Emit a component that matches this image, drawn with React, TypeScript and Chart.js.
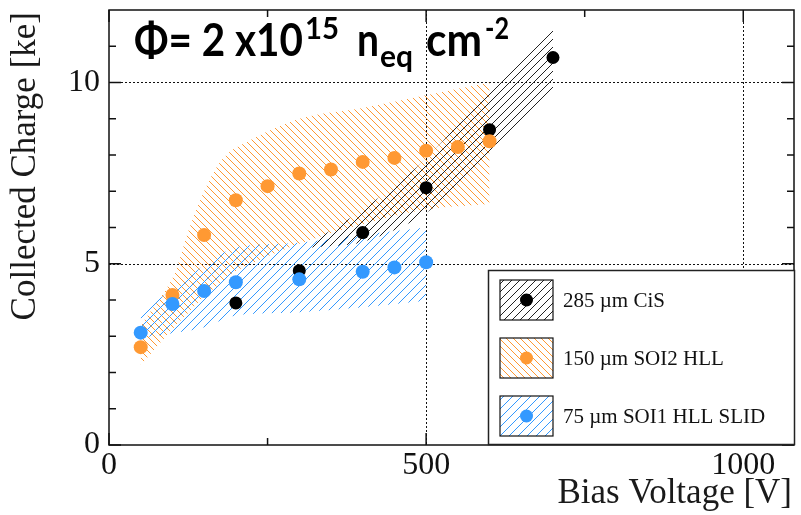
import React, { useEffect, useRef } from 'react';
import { Chart, registerables } from 'chart.js';
Chart.register(...registerables);

// ---- data ----
const cisVoltage = [200, 300, 400, 500, 600, 700];
const cisCharge = [3.92, 4.81, 5.86, 7.10, 8.70, 10.69];
const soi2Voltage = [50, 100, 150, 200, 250, 300, 350, 400, 450, 500, 550, 600];
const soi2Charge = [2.70, 4.14, 5.79, 6.75, 7.14, 7.49, 7.60, 7.81, 7.92, 8.12, 8.22, 8.38];
const soi1Voltage = [50, 100, 150, 200, 300, 400, 450, 500];
const soi1Charge = [3.10, 3.89, 4.25, 4.49, 4.57, 4.78, 4.90, 5.04];

const cisBandVoltage = [320, 400, 500, 600, 700];
const cisBandHigh = [5.6, 6.5, 7.9, 9.85, 11.6];
const cisBandLow = [5.45, 5.6, 6.4, 8.1, 9.7];
const soi2BandVoltage = [50, 100, 125, 150, 175, 200, 300, 400, 500, 600];
const soi2BandHigh = [3.3, 4.6, 5.9, 7.0, 7.8, 8.2, 9.0, 9.3, 9.65, 10.0];
const soi2BandLow = [2.2, 3.2, 3.65, 4.1, 4.45, 4.8, 5.55, 6.1, 6.5, 6.65];
const soi1BandVoltage = [50, 100, 150, 200, 300, 400, 500];
const soi1BandHigh = [3.66, 4.3, 4.95, 5.45, 5.58, 5.8, 6.0];
const soi1BandLow = [2.95, 3.08, 3.25, 3.57, 3.66, 3.8, 3.98];

const xTickLabels = [0, 500, 1000];
const xMinorTicks = [250, 750];
const yTickLabels = [0, 5, 10];
const yMinorTicks = [1, 2, 3, 4, 6, 7, 8, 9, 11];
const legendLabels = ['285 \u00b5m CiS', '150 \u00b5m SOI2 HLL', '75 \u00b5m SOI1 HLL SLID'];

const BLACK = '#000000';
const ORANGE = '#ff9933';
const BLUE = '#3399ff';
const SERIF = "'Liberation Serif', 'DejaVu Serif', serif";

function pts(xs: number[], ys: number[]) {
  return xs.map((x, i) => ({ x, y: ys[i] }));
}

function hatch(ctx: CanvasRenderingContext2D, color: string, size: number, dir: number, lw = 1) {
  const c = document.createElement('canvas');
  c.width = size; c.height = size;
  const g = c.getContext('2d')!;
  g.strokeStyle = color; g.lineWidth = lw;
  g.beginPath();
  if (dir > 0) {
    g.moveTo(0, size); g.lineTo(size, 0);
    g.moveTo(-2, 2); g.lineTo(2, -2);
    g.moveTo(size - 2, size + 2); g.lineTo(size + 2, size - 2);
  } else {
    g.moveTo(0, 0); g.lineTo(size, size);
    g.moveTo(size - 2, -2); g.lineTo(size + 2, 2);
    g.moveTo(-2, size - 2); g.lineTo(2, size + 2);
  }
  g.stroke();
  return ctx.createPattern(c, 'repeat')!;
}

export default function App() {
  const ref = useRef<HTMLCanvasElement>(null);
  useEffect(() => {
    const canvas = ref.current!;
    const ctx = canvas.getContext('2d')!;
    const blackHatch = hatch(ctx, '#222222', 8, 1);
    const orangeHatch = hatch(ctx, ORANGE, 7, -1);
    const blueHatch = hatch(ctx, BLUE, 9, 1);

    const decor = {
      id: 'decor',
      beforeDatasetsDraw(chart: any) {
        const { ctx: c, chartArea: a, scales } = chart;
        const xs = scales.x, ys = scales.y;
        c.save();
        c.strokeStyle = '#111';
        c.lineWidth = 1;
        c.setLineDash([2, 2]);
        xTickLabels.filter(v => v > 0).forEach(v => {
          const px = Math.round(xs.getPixelForValue(v)) + 0.5;
          c.beginPath(); c.moveTo(px, a.top); c.lineTo(px, a.bottom); c.stroke();
        });
        yTickLabels.filter(v => v > 0).forEach(v => {
          const py = Math.round(ys.getPixelForValue(v)) + 0.5;
          c.beginPath(); c.moveTo(a.left, py); c.lineTo(a.right, py); c.stroke();
        });
        c.restore();
      },
      afterDatasetsDraw(chart: any) {
        const { ctx: c, chartArea: a, scales } = chart;
        const xs = scales.x, ys = scales.y;
        c.save();
        // ticks
        c.strokeStyle = '#111';
        c.lineWidth = 1.5;
        const xt = (v: number, len: number) => {
          const px = xs.getPixelForValue(v);
          c.beginPath(); c.moveTo(px, a.bottom); c.lineTo(px, a.bottom - len); c.stroke();
          c.beginPath(); c.moveTo(px, a.top); c.lineTo(px, a.top + len); c.stroke();
        };
        const yt = (v: number, len: number) => {
          const py = ys.getPixelForValue(v);
          c.beginPath(); c.moveTo(a.left, py); c.lineTo(a.left + len, py); c.stroke();
          c.beginPath(); c.moveTo(a.right, py); c.lineTo(a.right - len, py); c.stroke();
        };
        xTickLabels.forEach(v => xt(v, 12));
        xMinorTicks.forEach(v => xt(v, 7));
        yTickLabels.forEach(v => yt(v, 12));
        yMinorTicks.forEach(v => yt(v, 7));
        // frame
        c.lineWidth = 1.5;
        c.strokeRect(a.left, a.top, a.right - a.left, a.bottom - a.top);

        // axis titles
        c.fillStyle = '#1a1a1a';
        c.font = `35px ${SERIF}`;
        c.textAlign = 'right';
        c.textBaseline = 'alphabetic';
        c.fillText('Bias Voltage [V]', a.right - 2, 503);
        c.save();
        c.translate(35, a.top + 2);
        c.rotate(-Math.PI / 2);
        c.fillText('Collected Charge [ke]', 0, 0);
        c.restore();

        // fluence title
        c.fillStyle = '#000';
        c.textAlign = 'left';
        const big = "bold 45px Lato, 'Open Sans', sans-serif";
        const small = "bold 31px Lato, 'Open Sans', sans-serif";
        const put = (t: string, f: string, x: number, y: number, w: number) => {
          c.font = f;
          const m = c.measureText(t).width;
          c.save();
          c.translate(x, y);
          c.scale(w / m, 1);
          c.fillText(t, 0, 0);
          c.restore();
        };
        put('\u03a6= 2 x10', big, 134, 56, 169);
        put('15', small, 305, 39, 34);
        put('n', big, 357, 56, 22);
        put('eq', small, 380, 67, 33);
        put('cm', big, 426, 56, 56);
        put('-2', small, 485, 39, 24);

        // legend
        const lx = 488, ly = 270, lw = 307, lh = 175;
        c.fillStyle = '#fff';
        c.fillRect(lx, ly, lw, lh);
        c.strokeStyle = '#222';
        c.lineWidth = 1.5;
        c.strokeRect(lx + 0.5, ly + 0.5, lw - 1, lh - 1);
        const fills = [blackHatch, orangeHatch, blueHatch];
        const cols = [BLACK, ORANGE, BLUE];
        legendLabels.forEach((lab, i) => {
          const cy = 300 + i * 58;
          const bx = 500, bw = 53, bh = 40;
          c.fillStyle = fills[i];
          c.fillRect(bx, cy - bh / 2, bw, bh);
          c.strokeStyle = '#111';
          c.lineWidth = 1.2;
          c.strokeRect(bx, cy - bh / 2, bw, bh);
          c.fillStyle = cols[i];
          c.beginPath(); c.arc(bx + bw / 2, cy, 6.5, 0, Math.PI * 2); c.fill();
          c.fillStyle = '#111';
          c.font = `21px ${SERIF}`;
          c.textAlign = 'left';
          c.textBaseline = 'middle';
          c.fillText(lab, 563, cy + 1);
        });
        c.restore();
      },
    };

    const band = (xsv: number[], hi: number[], lo: number[], pat: CanvasPattern, order: number) => [
      {
        type: 'line', data: pts(xsv, hi), borderWidth: 0, borderColor: 'rgba(0,0,0,0)',
        pointRadius: 0, fill: '+1', backgroundColor: pat, order, tension: 0.3,
      },
      {
        type: 'line', data: pts(xsv, lo), borderWidth: 0, borderColor: 'rgba(0,0,0,0)',
        pointRadius: 0, fill: false, backgroundColor: 'rgba(0,0,0,0)', order, tension: 0.3,
      },
    ];

    const chart = new Chart(canvas, {
      type: 'scatter',
      data: {
        datasets: [
          { type: 'scatter', label: legendLabels[2], data: pts(soi1Voltage, soi1Charge), backgroundColor: BLUE, borderWidth: 0, pointRadius: 7, order: 0 },
          { type: 'scatter', label: legendLabels[1], data: pts(soi2Voltage, soi2Charge), backgroundColor: ORANGE, borderWidth: 0, pointRadius: 7, order: 1 },
          { type: 'scatter', label: legendLabels[0], data: pts(cisVoltage, cisCharge), backgroundColor: BLACK, borderWidth: 0, pointRadius: 6.5, order: 2 },
          ...band(cisBandVoltage, cisBandHigh, cisBandLow, blackHatch, 10),
          ...band(soi2BandVoltage, soi2BandHigh, soi2BandLow, orangeHatch, 12),
          ...band(soi1BandVoltage, soi1BandHigh, soi1BandLow, blueHatch, 11),
        ] as any,
      },
      options: {
        animation: false,
        responsive: false,
        layout: { padding: { top: 10, right: 7, left: 0, bottom: 0 } },
        plugins: { legend: { display: false }, tooltip: { enabled: false } },
        scales: {
          x: {
            type: 'linear', min: 0, max: 1080,
            grid: { display: false, drawTicks: false },
            border: { display: false },
            afterBuildTicks: (s: any) => { s.ticks = xTickLabels.map(v => ({ value: v })); },
            afterFit: (s: any) => { s.height = 70; s.paddingLeft = 0; s.paddingRight = 0; },
            ticks: { font: { family: SERIF, size: 32 }, color: '#111', padding: 1, maxRotation: 0, callback: (v: any) => String(v) },
          },
          y: {
            type: 'linear', min: 0, max: 12,
            grid: { display: false, drawTicks: false },
            border: { display: false },
            afterBuildTicks: (s: any) => { s.ticks = yTickLabels.map(v => ({ value: v })); },
            afterFit: (s: any) => { s.width = 109; s.paddingTop = 0; s.paddingBottom = 0; },
            ticks: { font: { family: SERIF, size: 32 }, color: '#111', padding: 9, callback: (v: any) => String(v) },
          },
        },
      } as any,
      plugins: [decor],
    });
    return () => chart.destroy();
  }, []);

  return (
    <div style={{ position: 'fixed', left: 0, top: 0, width: 801, height: 515, background: '#fff' }}>
      <canvas ref={ref} width={801} height={515} />
    </div>
  );
}
